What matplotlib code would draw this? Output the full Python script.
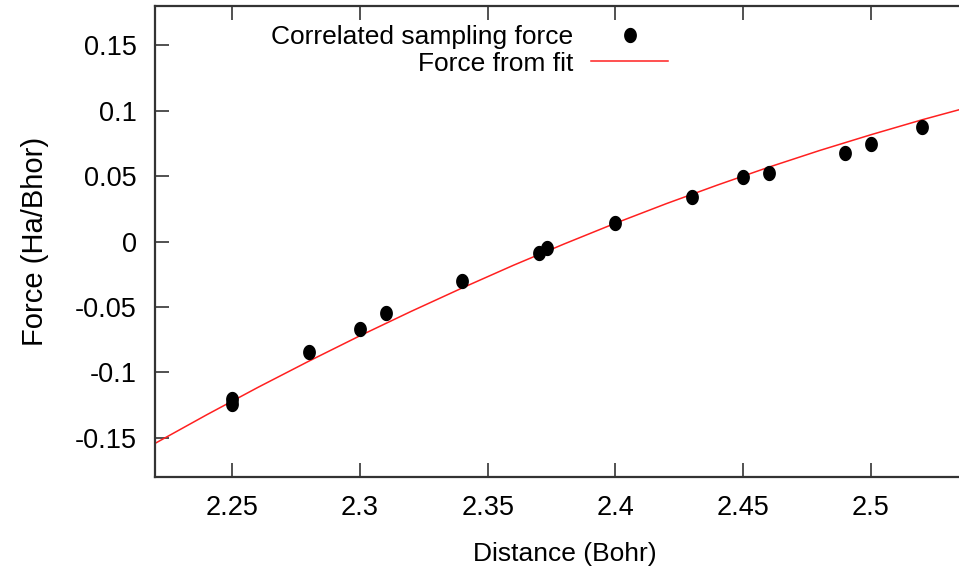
#!/usr/bin/env python3
"""Correlated sampling force vs distance, with the force from the fit."""

import numpy as np
import matplotlib
matplotlib.use("Agg")
import matplotlib.pyplot as plt
from matplotlib.path import Path

# Correlated sampling force points (Bohr, Ha/Bohr)
dist_cs = [2.25, 2.25, 2.28, 2.30, 2.31, 2.34, 2.37, 2.373, 2.40,
           2.43, 2.45, 2.46, 2.49, 2.50, 2.52]
force_cs = [-0.1205, -0.124, -0.0847, -0.067, -0.0543, -0.0305, -0.0087,
            -0.005, 0.0138, 0.0343, 0.0495, 0.0526, 0.0678, 0.0749, 0.0872]

# Force from fit
dist_fit = [2.22, 2.24, 2.26, 2.28, 2.30, 2.32, 2.34, 2.36, 2.38,
            2.40, 2.42, 2.44, 2.46, 2.48, 2.50, 2.52, 2.54]
force_fit = [-0.1540, -0.1324, -0.1115, -0.0914, -0.0720, -0.0534, -0.0355,
             -0.0182, -0.0018, 0.0140, 0.0290, 0.0432, 0.0568, 0.0696,
             0.0816, 0.0930, 0.1036]

x_ticks = [2.25, 2.3, 2.35, 2.4, 2.45, 2.5]
x_tick_labels = ["2.25", "2.3", "2.35", "2.4", "2.45", "2.5"]
y_ticks = [-0.15, -0.1, -0.05, 0, 0.05, 0.1, 0.15]
y_tick_labels = ["-0.15", "-0.1", "-0.05", "0", "0.05", "0.1", "0.15"]

plt.rcParams["font.family"] = ["Liberation Sans", "DejaVu Sans"]
FS = 19.5

# slightly tall ellipse marker (the picture is stretched vertically)
t = np.linspace(0, 2 * np.pi, 40)
ellipse = Path(np.column_stack([0.82 * np.cos(t), np.sin(t)]), closed=True)

fig = plt.figure(figsize=(9.59, 5.69), dpi=100)
ax = fig.add_axes([155 / 959, 1 - 477 / 569, 1 - 155 / 959, 471 / 569])

ax.plot(dist_cs, force_cs, linestyle="none", marker=ellipse, markersize=10,
        color="black", label="Correlated sampling force", zorder=3)
ax.plot(dist_fit, force_fit, color="#ff2020", linewidth=1.1,
        label="Force from fit", zorder=2)

ax.set_xlim(2.2197, 2.5345)
ax.set_ylim(-0.18, 0.18)

ax.set_xticks(x_ticks)
ax.set_xticklabels(x_tick_labels)
ax.set_yticks(y_ticks)
ax.set_yticklabels(y_tick_labels)
ax.tick_params(direction="in", length=10, width=1.2, color="#333333",
               labelsize=FS, top=True, right=False)
ax.tick_params(axis="x", pad=13)
ax.tick_params(axis="y", pad=13)

for side in ["left", "bottom", "top"]:
    ax.spines[side].set_color("#333333")
    ax.spines[side].set_linewidth(1.6)
ax.spines["right"].set_visible(False)

ax.set_xlabel("Distance (Bohr)", fontsize=19)
ax.set_ylabel("Force (Ha/Bhor)", fontsize=21)
ax.xaxis.set_label_coords(0.51, -0.138)
ax.yaxis.set_label_coords(-0.132, 0.5)

ax.legend(loc="upper right", bbox_to_anchor=(668 / 959, 1 - 25 / 569),
          bbox_transform=fig.transFigure, frameon=False, markerfirst=False,
          fontsize=19, handlelength=2.9, handletextpad=0.7, labelspacing=0.1,
          borderpad=0, borderaxespad=0)

fig.savefig("out.png", dpi=100)
